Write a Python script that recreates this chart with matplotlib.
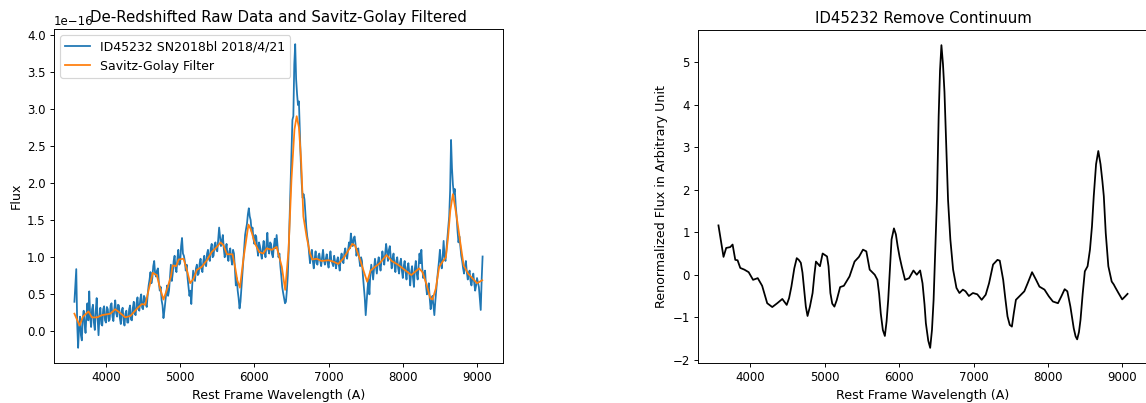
import numpy as np
import matplotlib
matplotlib.use("Agg")
import matplotlib.pyplot as plt

# raw spectrum (units of 1e-16), one sample every 12.5 A from 3575 A
raw_start = 3575
raw_step = 12.5
raw_flux = [
    0.40, 0.62, 0.84, 0.10, -0.22, 0.05, 0.20, -0.05, -0.12, 0.18,
    0.28, 0.10, -0.02, 0.22, 0.38, 0.15, 0.54, 0.20, 0.06, 0.30,
    0.36, 0.12, 0.02, 0.28, 0.45, 0.18, -0.05, 0.20, 0.32, 0.10,
    0.08, 0.30, 0.34, 0.15, 0.12, 0.33, 0.30, 0.14, 0.16, 0.35,
    0.38, 0.20, 0.14, 0.30, 0.42, 0.25, 0.20, 0.36, 0.35, 0.18,
    0.10, 0.28, 0.32, 0.15, 0.08, 0.24, 0.28, 0.12, 0.12, 0.30,
    0.35, 0.16, 0.15, 0.32, 0.40, 0.24, 0.22, 0.38, 0.46, 0.30,
    0.28, 0.44, 0.50, 0.32, 0.30, 0.48, 0.45, 0.36, 0.33, 0.50,
    0.62, 0.70, 0.80, 0.65, 0.72, 0.88, 0.95, 0.78, 0.74, 0.82,
    0.85, 0.66, 0.55, 0.60, 0.42, 0.35, 0.18, 0.28, 0.40, 0.52,
    0.62, 0.48, 0.55, 0.72, 0.90, 0.68, 0.78, 0.95, 1.02, 0.85,
    0.80, 0.98, 1.10, 0.90, 0.92, 1.15, 1.26, 1.05, 1.02, 0.95,
    0.82, 0.90, 0.72, 0.60, 0.48, 0.55, 0.37, 0.62, 0.82, 0.75,
    0.68, 0.85, 0.90, 0.76, 0.78, 0.92, 0.98, 0.84, 0.80, 0.95,
    1.02, 0.90, 0.88, 1.05, 1.10, 0.98, 0.95, 1.12, 1.18, 1.00,
    1.02, 1.16, 1.20, 1.10, 1.08, 1.25, 1.40, 1.28, 1.15, 1.22,
    1.30, 1.12, 1.00, 1.10, 1.18, 1.02, 0.95, 1.08, 1.12, 0.98,
    0.90, 1.10, 1.05, 0.85, 0.62, 0.72, 0.55, 0.45, 0.31, 0.40,
    0.58, 0.75, 0.92, 1.10, 1.30, 1.38, 1.45, 1.58, 1.66, 1.55,
    1.50, 1.35, 1.40, 1.25, 1.18, 1.30, 1.28, 1.12, 1.02, 1.20,
    1.15, 1.05, 0.98, 1.12, 1.22, 1.08, 1.00, 1.18, 1.33, 1.10,
    1.05, 1.20, 1.18, 1.04, 1.00, 1.15, 1.25, 1.12, 1.30, 1.15,
    1.00, 1.05, 0.88, 0.75, 0.60, 0.52, 0.45, 0.38, 0.40, 0.55,
    0.75, 1.10, 1.55, 1.95, 2.40, 2.85, 2.90, 3.60, 3.87, 3.40,
    3.20, 3.05, 3.10, 2.70, 2.30, 2.00, 1.80, 1.85, 1.78, 1.60,
    1.40, 1.28, 1.20, 1.05, 0.92, 1.02, 1.10, 0.95, 0.85, 0.98,
    1.08, 0.92, 0.90, 1.02, 1.05, 0.95, 0.88, 1.00, 1.10, 0.96,
    0.90, 0.98, 1.04, 0.92, 0.86, 0.98, 1.08, 0.96, 0.92, 0.88,
    1.02, 0.94, 0.85, 0.95, 1.00, 0.90, 0.82, 0.98, 1.05, 0.96,
    0.92, 1.06, 1.12, 1.02, 0.98, 1.10, 1.20, 1.12, 1.32, 1.22,
    1.15, 1.25, 1.28, 1.18, 1.02, 1.08, 1.12, 0.98, 0.88, 1.00,
    0.95, 0.75, 0.60, 0.45, 0.22, 0.40, 0.58, 0.70, 0.50, 0.78,
    0.90, 0.80, 0.70, 0.85, 0.98, 0.88, 0.78, 0.92, 1.00, 0.90,
    0.82, 0.95, 1.08, 0.98, 0.90, 1.05, 1.18, 1.08, 0.95, 1.10,
    1.15, 1.00, 0.85, 0.98, 1.05, 0.90, 0.80, 0.95, 1.00, 0.85,
    0.78, 0.92, 0.98, 0.82, 0.72, 0.88, 0.95, 0.80, 0.70, 0.86,
    0.92, 0.78, 0.62, 0.80, 0.88, 0.72, 0.60, 0.85, 0.95, 0.78,
    0.70, 0.88, 1.05, 0.92, 1.10, 0.85, 0.72, 0.78, 0.82, 0.62,
    0.50, 0.58, 0.65, 0.45, 0.30, 0.40, 0.48, 0.35, 0.22, 0.40,
    0.55, 0.70, 0.82, 0.95, 1.10, 0.92, 0.85, 1.02, 1.22, 1.00,
    0.95, 1.10, 1.25, 1.40, 1.55, 1.90, 2.58, 2.20, 1.98, 1.85,
    1.92, 1.70, 1.55, 1.35, 1.20, 1.28, 1.15, 1.02, 0.95, 0.85,
    0.78, 0.88, 0.95, 0.80, 0.70, 0.78, 0.82, 0.68, 0.62, 0.72,
    0.78, 0.65, 0.55, 0.62, 0.72, 0.66, 0.60, 0.45, 0.29, 0.70,
    1.01,
]
raw_wave = raw_start + raw_step * np.arange(len(raw_flux))
raw_flux = np.array(raw_flux) * 1e-16

# Savitz-Golay filtered curve
sg_wave = [3575, 3610, 3645, 3690, 3765, 3810, 3880, 3945, 4060, 4125,
           4190, 4260, 4330, 4420, 4485, 4530, 4575, 4630, 4685, 4730,
           4775, 4820, 4875, 4900, 4945, 4980, 5045, 5090, 5135, 5180,
           5225, 5290, 5360, 5425, 5495, 5545, 5585, 5630, 5705, 5740,
           5770, 5805, 5850, 5920, 5950, 6010, 6065, 6120, 6165, 6235,
           6300, 6370, 6415, 6460, 6500, 6540, 6570, 6600, 6630, 6660,
           6705, 6750, 6780, 6840, 6905, 7000, 7065, 7130, 7195, 7265,
           7320, 7355, 7420, 7490, 7520, 7565, 7625, 7690, 7780, 7850,
           7935, 8025, 8115, 8160, 8220, 8265, 8320, 8370, 8400, 8445,
           8490, 8535, 8580, 8610, 8640, 8675, 8712, 8745, 8780, 8820,
           8880, 8945, 9000, 9035, 9070]
sg_flux = [0.24, 0.16, 0.08, 0.20, 0.27, 0.19, 0.19, 0.22, 0.24, 0.30,
           0.25, 0.19, 0.21, 0.31, 0.37, 0.36, 0.56, 0.79, 0.76, 0.58,
           0.43, 0.56, 0.74, 0.89, 0.88, 0.97, 0.98, 0.83, 0.65, 0.71,
           0.83, 0.87, 0.96, 1.07, 1.14, 1.20, 1.16, 1.04, 1.04, 0.87,
           0.69, 0.59, 0.96, 1.44, 1.38, 1.18, 1.07, 1.05, 1.12, 1.10,
           1.14, 0.87, 0.56, 1.09, 2.05, 2.72, 2.90, 2.75, 2.30, 1.55,
           1.27, 1.05, 0.97, 0.98, 0.95, 0.96, 0.94, 0.91, 0.98, 1.09,
           1.18, 1.16, 0.98, 0.76, 0.67, 0.82, 0.87, 0.92, 1.03, 0.95,
           0.90, 0.83, 0.76, 0.80, 0.85, 0.80, 0.63, 0.45, 0.43, 0.58,
           0.87, 0.94, 1.00, 1.27, 1.63, 1.85, 1.63, 1.41, 1.16, 0.89,
           0.78, 0.71, 0.65, 0.67, 0.69]
sg_flux = np.array(sg_flux) * 1e-16

# continuum removed, renormalized
cr_wave = [3571, 3639, 3675, 3729, 3761, 3797, 3828, 3864, 3919, 3977,
           4036, 4099, 4158, 4226, 4294, 4361, 4429, 4488, 4520, 4551,
           4590, 4623, 4650, 4678, 4700, 4723, 4745, 4768, 4800, 4836,
           4860, 4881, 4935, 4971, 5030, 5050, 5075, 5100, 5129, 5160,
           5206, 5256, 5332, 5400, 5459, 5513, 5558, 5603, 5671, 5707,
           5730, 5752, 5780, 5807, 5830, 5852, 5875, 5897, 5929, 5955,
           5979, 6005, 6033, 6078, 6133, 6191, 6236, 6281, 6313, 6340,
           6358, 6390, 6416, 6440, 6462, 6485, 6507, 6530, 6548, 6567,
           6588, 6608, 6629, 6656, 6687, 6724, 6769, 6809, 6855, 6891,
           6936, 6990, 7049, 7108, 7162, 7207, 7261, 7320, 7351, 7397,
           7425, 7455, 7485, 7514, 7540, 7568, 7613, 7681, 7726, 7785,
           7839, 7884, 7952, 8011, 8065, 8133, 8178, 8223, 8259, 8300,
           8345, 8370, 8391, 8415, 8436, 8465, 8494, 8531, 8563, 8590,
           8614, 8645, 8675, 8705, 8730, 8749, 8775, 8810, 8839, 8855,
           8883, 8901, 8946, 8996, 9036, 9068]
cr_flux = [1.16, 0.42, 0.63, 0.65, 0.71, 0.35, 0.34, 0.16, 0.12, 0.06,
           -0.12, -0.08, -0.26, -0.67, -0.76, -0.67, -0.57, -0.71, -0.55, -0.28,
           0.15, 0.39, 0.35, 0.28, 0.05, -0.35, -0.75, -0.97, -0.75, -0.43,
           0.00, 0.31, 0.20, 0.50, 0.43, 0.20, -0.43, -0.68, -0.75, -0.60,
           -0.29, -0.26, -0.04, 0.31, 0.42, 0.59, 0.55, 0.12, 0.00, -0.12,
           -0.45, -0.91, -1.30, -1.44, -1.10, -0.59, 0.15, 0.83, 1.09, 0.95,
           0.67, 0.42, 0.20, -0.12, -0.08, 0.10, 0.00, 0.10, -0.20, -0.70,
           -1.14, -1.55, -1.72, -1.30, -0.59, 0.60, 1.77, 3.73, 4.80, 5.40,
           4.95, 4.30, 3.20, 1.76, 0.83, 0.12, -0.31, -0.43, -0.35, -0.39,
           -0.50, -0.43, -0.46, -0.59, -0.47, -0.20, 0.24, 0.35, 0.33, -0.12,
           -0.55, -0.98, -1.18, -1.22, -0.90, -0.59, -0.51, -0.39, -0.20, 0.06,
           -0.12, -0.28, -0.35, -0.51, -0.63, -0.67, -0.51, -0.34, -0.39, -0.75,
           -1.26, -1.45, -1.52, -1.35, -1.06, -0.45, 0.08, 0.20, 0.59, 1.14,
           1.85, 2.60, 2.91, 2.60, 2.20, 1.85, 0.98, 0.20, -0.03, -0.16,
           -0.23, -0.29, -0.43, -0.58, -0.51, -0.45]

W, H, DPI = 1146, 403, 85
fig = plt.figure(figsize=(W / DPI, H / DPI), dpi=DPI)

ax1 = fig.add_axes([54 / W, 1 - 363 / H, 449 / W, 334 / H])
ax1.plot(raw_wave, raw_flux, label='ID45232 SN2018bl 2018/4/21')
ax1.plot(sg_wave, sg_flux, label='Savitz-Golay Filter')
ax1.legend(loc='upper left', fontsize=10.6)
# fixed y so the title sits over the offset text, as in the original
ax1.set_title('De-Redshifted Raw Data and Savitz-Golay Filtered', fontsize=12.7, y=1.0)
ax1.set_xlabel('Rest Frame Wavelength (A)', fontsize=10.7)
ax1.set_ylabel('Flux', fontsize=10.7)

ax2 = fig.add_axes([698 / W, 1 - 363 / H, 450 / W, 333 / H])
ax2.plot(cr_wave, cr_flux, color='black')
ax2.set_title('ID45232 Remove Continuum', fontsize=12.7, y=1.0)
ax2.set_xlabel('Rest Frame Wavelength (A)', fontsize=10.7)
ax2.set_ylabel('Renormalized Flux in Arbitrary Unit', fontsize=10.7)

fig.savefig('out.png', dpi=DPI)
